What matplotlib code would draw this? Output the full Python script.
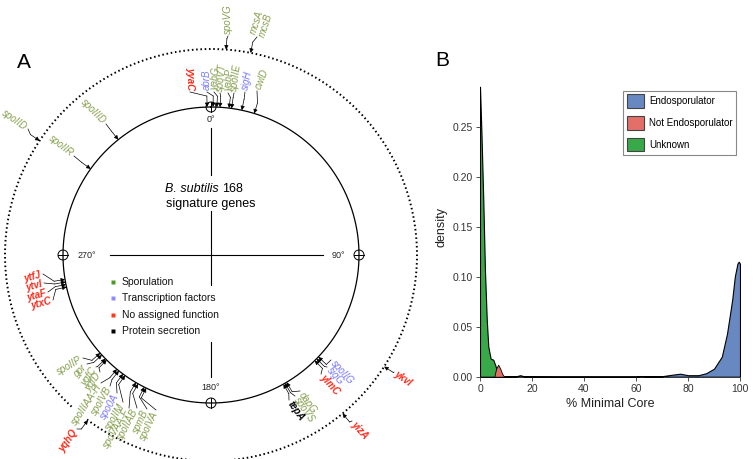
import numpy as np
import matplotlib.pyplot as plt
from matplotlib.patches import Circle, Patch

plt.rcParams['font.family'] = ['Liberation Sans', 'DejaVu Sans']

# ---- panel B: density of % minimal core ----
unknown_x = [0, 0.6, 1.3, 1.9, 2.6, 3.2, 4.1, 5.1, 5.8, 6.7, 7.7, 9]
unknown_y = [0.29, 0.24, 0.173, 0.107, 0.057, 0.03, 0.018, 0.017, 0.012, 0.005, 0.001, 0]
notendo_x = [5.5, 6.2, 7.0, 7.8, 8.5, 9.3]
notendo_y = [0.0, 0.008, 0.012, 0.008, 0.003, 0.0]
endo_x = [0, 10, 14, 15.5, 17, 30, 60, 62, 65, 70, 74, 77, 80, 84, 87, 90, 93, 95, 97, 98, 99, 99.5, 100]
endo_y = [0, 0.0003, 0.0005, 0.0015, 0.0003, 0.0002, 0.0002, 0.0007, 0.0003, 0.0005, 0.002,
          0.003, 0.0015, 0.0015, 0.0035, 0.008, 0.02, 0.043, 0.077, 0.1, 0.113, 0.115, 0.113]
series_names = ['Endosporulator', 'Not Endosporulator', 'Unknown']

# ---- panel A: signature genes, angle on the chromosome (deg, clockwise from ori) ----
inner_genes = ['yyaC', 'abrB', 'yabG', 'spoVT', 'yabP', 'spoIIE', 'sigH', 'cwlD',
               'spoIIID', 'spoIIR',
               'ytfJ', 'ytvI', 'ytaF', 'ytxC',
               'spoIIP', 'gpr', 'yqfC', 'yqfD', 'spoIIIAA-H', 'spoIVB', 'spo0A', 'spoIIM',
               'spoVAA-F', 'spoIIAB', 'spmB', 'spoIVA',
               'spoIIG', 'sigG', 'ylmC', 'dapG', 'spoVS', 'tepA']
inner_cat = ['na', 'tf', 'spo', 'spo', 'spo', 'spo', 'tf', 'spo',
             'spo', 'spo',
             'na', 'na', 'na', 'na',
             'spo', 'spo', 'spo', 'spo', 'spo', 'spo', 'tf', 'spo',
             'spo', 'spo', 'spo', 'spo',
             'tf', 'tf', 'na', 'spo', 'spo', 'sec']
inner_angle = [358.5, 0.8, 2.3, 3.5, 7.0, 8.0, 12.0, 17.0,
               321.2, 305.6,
               260.5, 259.5, 258.5, 257.5,
               228.5, 227.5, 225.5, 224.8, 219.5, 218.5, 216.5, 215.5,
               210.5, 209.5, 206.8, 206.0,
               133.5, 134.5, 135.5, 149.3, 150.0, 150.7]

outer_genes = ['spoVG', 'mcsA\nmcsB', 'spoIID', 'ykvI', 'yizA', 'yqhQ']
outer_cat = ['spo', 'spo', 'spo', 'na', 'na', 'na']
outer_angle = [4.2, 11.1, 303.7, 122.8, 140.3, 216.7]

cat_names = ['Sporulation', 'Transcription factors', 'No assigned function', 'Protein secretion']
cat_keys = ['spo', 'tf', 'na', 'sec']

# label layout: anchor x, anchor y, rotation, alignment
inner_layout = [(190, 92, -90, 'right'), (207, 92, 90, 'left'), (214, 92, 84, 'left'),
                (220, 93, 84, 'left'), (228, 93, 84, 'left'), (234, 93, 82, 'left'),
                (245, 92, 78, 'left'), (257, 91, 68, 'left'),
                (106, 124, -45, 'right'), (74, 156, -38, 'right'),
                (43, 274, 15, 'right'), (44, 283, 15, 'right'), (48, 292, 15, 'right'),
                (53, 300, 15, 'right'),
                (83, 358, 30, 'right'), (87, 364, 45, 'right'), (96, 367, 55, 'right'),
                (100, 372, 55, 'right'), (101, 383, 57, 'right'), (110, 386, 60, 'right'),
                (117, 393, 60, 'right'), (123, 402, 60, 'right'), (129, 408, 60, 'right'),
                (137, 408, 62, 'right'), (147, 409, 65, 'right'), (156, 410, 65, 'right'),
                (331, 360, -48, 'left'), (327, 367, -48, 'left'), (321, 374, -48, 'left'),
                (300, 391, -55, 'left'), (295, 396, -55, 'left'), (289, 400, -55, 'left')]
outer_layout = [(228, 36, 90, 'left'), (257, 37, 72, 'left'), (28, 129, -35, 'right'),
                (394, 372, -35, 'left'), (352, 421, -48, 'left'), (77, 429, 55, 'right')]

text_col = {'spo': '#86a04e', 'tf': '#7b7bff', 'na': '#ff2a1a', 'sec': 'black'}
box_col = {'spo': '#4d9a22', 'tf': '#8c8cff', 'na': '#ff3a1a', 'sec': 'black'}

cx, cy = 211, 255
R_in, R_out = 148, 206


def pt(rad, ang):
    a = np.radians(ang)
    return cx + rad * np.sin(a), cy - rad * np.cos(a)


fig = plt.figure(figsize=(7.54, 4.59), dpi=100)
ax = fig.add_axes([0, 0, 1, 1])
ax.set_xlim(0, 754)
ax.set_ylim(459, 0)
ax.axis('off')

# circles
t = np.linspace(0, 360, 721)
ax.plot(*pt(R_in, t), color='black', lw=0.9)
t2 = np.linspace(222.6, 360 + 217, 800)
ax.plot(*pt(R_out, t2), color='black', lw=1.4, ls=(0, (0.8, 1.4)))

# cardinal markers
for ang, lab, off in [(0, '0°', 13), (90, '90°', 21), (180, '180°', 16), (270, '270°', 24)]:
    p = pt(R_in, ang)
    ax.add_patch(Circle(p, 5, fill=False, lw=0.7, color='black'))
    a, b = pt(R_in - 5, ang), pt(R_in + 5, ang)
    ax.plot([a[0], b[0]], [a[1], b[1]], color='black', lw=0.7)
    q = pt(R_in - off, ang)
    ax.text(q[0], q[1], lab, fontsize=6.5, ha='center', va='center', color='#222')

# crosshair
for y0, y1 in [(128, 175), (211, 285), (342, 377)]:
    ax.plot([cx, cx], [y0, y1], color='black', lw=0.8)
ax.plot([110, 323], [cy, cy], color='black', lw=0.8)
ax.text(219, 189, 'B. subtilis', style='italic', fontsize=9, ha='right', va='center')
ax.text(222, 189, '168', fontsize=9, ha='left', va='center')
ax.text(cx, 204, 'signature genes', fontsize=9, ha='center', va='center')

# category legend
for i, (k, nm) in enumerate(zip(cat_keys, cat_names)):
    y = 282 + i * 16.3
    ax.plot(113, y, marker='s', ms=3.2, color=box_col[k], mec='none')
    ax.text(122, y, nm, fontsize=7.5, va='center', ha='left', color='#111')


def draw_gene(name, cat, ang, lay, rad):
    lx, ly, rot, ha = lay
    tip = pt(rad, ang)
    elb = pt(rad + 11, ang)
    ax.plot([lx, elb[0]], [ly, elb[1]], color='black', lw=0.5)
    ax.annotate('', xy=tip, xytext=elb,
                arrowprops=dict(arrowstyle='-|>', color='black', lw=0.5,
                                mutation_scale=6, shrinkA=0, shrinkB=0))
    d = 2 if ha == 'left' else -2
    r = np.radians(rot)
    bold = cat in ('na', 'sec')
    ax.text(lx + d * np.cos(r), ly - d * np.sin(r), name, rotation=rot,
            rotation_mode='anchor', ha=ha, va='center', fontsize=7,
            style='italic', color=text_col[cat],
            weight='bold' if bold else 'normal', linespacing=0.95)


for g, c, a, lay in zip(inner_genes, inner_cat, inner_angle, inner_layout):
    draw_gene(g, c, a, lay, R_in)
for g, c, a, lay in zip(outer_genes, outer_cat, outer_angle, outer_layout):
    draw_gene(g, c, a, lay, R_out)

ax.text(24, 62, 'A', fontsize=15, ha='center', va='center')
ax.text(442, 61, 'B', fontsize=15, ha='center', va='center')

# ---- panel B ----
endo_col, notendo_col, unk_col = '#6788c0', '#e46e68', '#38a848'
axb = fig.add_axes([480 / 754, (459 - 376.7) / 459, 260 / 754, 300 / 459])
axb.fill_between(endo_x, endo_y, facecolor=endo_col, edgecolor='black', lw=0.8)
axb.fill_between(unknown_x, unknown_y, facecolor=unk_col, edgecolor='black', lw=0.8)
axb.fill_between(notendo_x, notendo_y, facecolor=notendo_col, edgecolor='black', lw=0.6)
axb.set_xlim(0, 100)
axb.set_ylim(0, 0.30)
axb.set_xticks([0, 20, 40, 60, 80, 100])
axb.set_yticks([0, 0.05, 0.10, 0.15, 0.20, 0.25])
axb.set_yticklabels(['0.00', '0.05', '0.10', '0.15', '0.20', '0.25'])
axb.tick_params(labelsize=7.5, length=3, width=0.6, colors='#333', pad=2)
for s in axb.spines.values():
    s.set_visible(False)
axb.patch.set_alpha(0)
axb.set_xlabel('% Minimal Core', fontsize=9, labelpad=3, color='#222')
axb.set_ylabel('density', fontsize=9, labelpad=4, color='#222')
handles = [Patch(facecolor=c, edgecolor='#444', lw=0.8) for c in (endo_col, notendo_col, unk_col)]
leg = axb.legend(handles, series_names, loc='upper right', bbox_to_anchor=(1.005, 0.97),
                 fontsize=7, handlelength=1.8, handleheight=1.8, labelspacing=0.8,
                 borderpad=0.4, handletextpad=0.5, fancybox=False, framealpha=1)
leg.get_frame().set_edgecolor('#888')
leg.get_frame().set_linewidth(0.8)

fig.savefig('out.png', dpi=100)
